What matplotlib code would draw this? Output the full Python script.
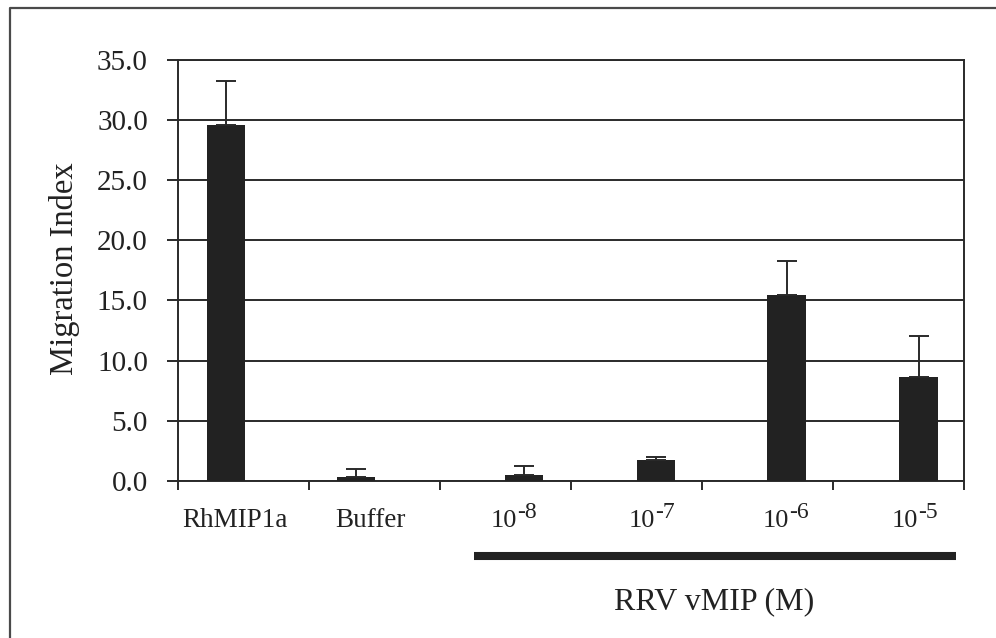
import matplotlib
matplotlib.use("Agg")
import matplotlib.pyplot as plt
from matplotlib.lines import Line2D
from matplotlib.transforms import blended_transform_factory

# values
groups = ["RhMIP1a", "Buffer", "10-8", "10-7", "10-6", "10-5"]
plain_labels = ["RhMIP1a", "Buffer"]
exponents = ["-8", "-7", "-6", "-5"]
means = [29.6, 0.36, 0.53, 1.71, 15.45, 8.66]
errors = [3.65, 0.61, 0.74, 0.25, 2.8, 3.41]
yticks = [0, 5, 10, 15, 20, 25, 30, 35]

# layout (category units, one unit per group); bars sit a bit off-centre in the scan
bar_x = [0.366, 1.359, 2.641, 3.649, 4.647, 5.653]
label_x = [0.437, 1.473, 2.595, 3.649, 4.672, 5.656]
bar_w = 0.295

INK = "#222222"
LINE = "#2a2a2a"
FONT = "Liberation Serif"

plt.rcParams["font.family"] = [FONT, "DejaVu Serif"]

fig = plt.figure(figsize=(9.96, 6.38), dpi=100)
ax = fig.add_axes([178 / 996, 1 - 481 / 638, 786 / 996, 421.5 / 638])

ax.bar(bar_x, means, width=bar_w, color=INK, zorder=3)
ax.errorbar(bar_x, means, yerr=[[0] * len(errors), errors], fmt="none",
            ecolor=LINE, elinewidth=1.4, capsize=7.2, capthick=1.4, zorder=4)

ax.set_xlim(0, len(groups))
ax.set_ylim(0, 35)
ax.set_yticks(yticks)
ax.set_yticklabels([f"{v:.1f}" for v in yticks], fontsize=21, color=INK)
ax.set_xticks(range(len(groups) + 1))
ax.set_xticklabels([])
ax.yaxis.grid(True, color=LINE, linewidth=1.4, zorder=0)
ax.set_axisbelow(True)
for s in ax.spines.values():
    s.set_color(LINE)
    s.set_linewidth(1.4)
ax.tick_params(axis="y", direction="out", length=7.7, width=1.4, color=LINE, pad=14)
ax.tick_params(axis="x", direction="out", length=6.5, width=1.4, color=LINE)

tr = blended_transform_factory(ax.transData, ax.transAxes)
for x, lab in zip(label_x[:2], plain_labels):
    ax.text(x, -0.109, lab, transform=tr, ha="center", va="baseline",
            fontsize=19.5, color=INK)
for x, e in zip(label_x[2:], exponents):
    ax.text(x - 0.005, -0.109, "10", transform=tr, ha="right", va="baseline",
            fontsize=19, color=INK)
    ax.text(x - 0.005, -0.088, e, transform=tr, ha="left", va="baseline",
            fontsize=17, color=INK)

# bracket bar under the vMIP doses
ax.plot([2.26, 5.94], [-0.179, -0.179], transform=tr, color=INK,
        linewidth=5.8, solid_capstyle="butt", clip_on=False)
ax.text(4.09, -0.3037, "RRV vMIP (M)", transform=tr, ha="center",
        va="baseline", fontsize=23, color=INK)

fig.text(64 / 996, 1 - 269 / 638, "Migration Index", rotation=90,
         ha="center", va="center", fontsize=23.5, color=INK)

# outer frame of the scanned figure (only top and left edges visible)
fig.add_artist(Line2D([10 / 996, 10 / 996, 1], [0, 1 - 8 / 638, 1 - 8 / 638],
                      transform=fig.transFigure, color="#4a4a4a", linewidth=1.6))

fig.savefig("out.png", dpi=100)
